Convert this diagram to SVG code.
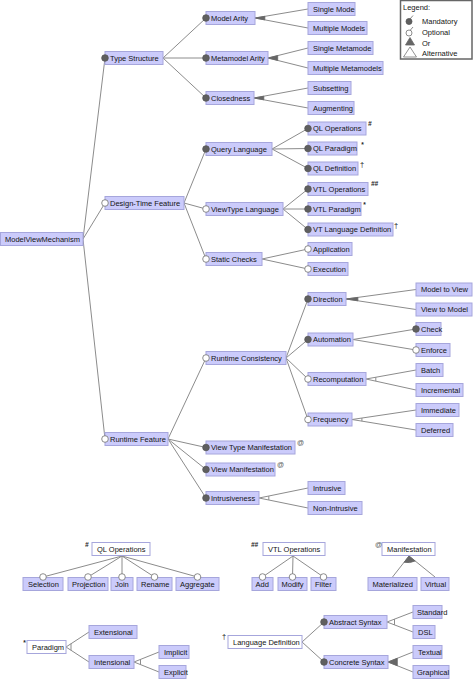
<svg xmlns="http://www.w3.org/2000/svg" width="474" height="680" viewBox="0 0 474 680">
<style>
.b{fill:#cbcbfb;stroke:#a6a6dc;stroke-width:1}
.w{fill:#ffffff;stroke:#a6a6dc;stroke-width:1}
.t{font-family:"Liberation Sans",Arial,sans-serif;font-size:7.5px;fill:#141414}
.ln{stroke:#8c8c8c;stroke-width:1;fill:none}
.m{fill:#5f5f5f;stroke:#555555;stroke-width:0.8}
.o{fill:#ffffff;stroke:#707070;stroke-width:0.8}
.or{fill:#666666;stroke:#666666;stroke-width:0.8}
.alt{fill:none;stroke:#8c8c8c;stroke-width:1}
.sup{font-family:"Liberation Sans",Arial,sans-serif;font-size:6.5px;fill:#222;font-weight:bold;font-style:italic}
.at{font-family:"Liberation Sans",Arial,sans-serif;font-size:7px;fill:#555}
.lg{fill:#ffffff;stroke:#666666;stroke-width:1.5}
</style>
<g id="connectors">
<path class="ln" d="M83,239L105,58M83,239L105,203M83,239L105,439"/>
<path class="ln" d="M163,58L206,18M163,58L206,58M163,58L206,98"/>
<path class="ln" d="M255,18L308,9M255,18L308,28M268,58L308,48M268,58L308,68M254,98L308,88M254,98L308,108"/>
<polygon class="or" points="255,18 264.9,16.3 264.8,19.9"/>
<polygon class="or" points="268,58 277.7,55.6 277.7,60.4"/>
<polygon class="or" points="254,98 263.8,96.2 263.8,99.8"/>
<path class="ln" d="M184,203L206,149M184,203L206,209M184,203L206,259"/>
<path class="ln" d="M272,149L308,128.5M272,149L308,148.5M272,149L308,168.5"/>
<path class="ln" d="M283,209L308,189M283,209L308,209M283,209L308,229.5"/>
<path class="ln" d="M262,259L308,249M262,259L308,269"/>
<path class="ln" d="M168,439L206,358M168,439L206,447.5M168,439L206,469.5M168,439L206,498"/>
<path class="ln" d="M286,358L308,299M286,358L308,339.5M286,358L308,379M286,358L308,419.5"/>
<path class="ln" d="M346,299L416,289.5M346,299L416,309.5"/>
<polygon class="or" points="346,299 357.9,297.4 357.9,300.8"/>
<path class="ln" d="M353,339.5L416,329M353,339.5L416,350"/>
<path class="ln" d="M366,379L416,370M366,379L416,390"/>
<path class="alt" d="M375.8,377.2L375.8,381.1"/>
<path class="ln" d="M352,419.5L416,410M352,419.5L416,430"/>
<path class="alt" d="M361.9,418L361.9,421.2"/>
<path class="ln" d="M259,498L308,488M259,498L308,508"/>
<path class="alt" d="M268.8,496L268.8,500"/>
<path class="ln" d="M122,556L43,577M122,556L88,577M122,556L122,577M122,556L154.5,577M122,556L197.5,577"/>
<path class="ln" d="M293,556L262.5,577M293,556L292.5,577M293,556L323.5,577"/>
<path class="ln" d="M409,556L392.5,577M409,556L435,577"/>
<path class="or" d="M409,556L404.1,562.3Q409.5,563.5 415.2,561Z"/>
<path class="ln" d="M66,647L89,632M66,647L89,662"/>
<path class="alt" d="M71,643.7L71,650.3"/>
<path class="ln" d="M134,662L159,652M134,662L159,672"/>
<path class="alt" d="M140.5,659.4L140.5,664.6"/>
<path class="ln" d="M302,642L324,622M302,642L324,662"/>
<path class="ln" d="M387,622L413,612M387,622L413,632"/>
<path class="alt" d="M394.5,619.1L394.5,624.9"/>
<path class="ln" d="M388,662L413,652M388,662L413,672"/>
<polygon class="or" points="388,662 397.3,658.3 397.3,665.7"/>
</g>
<g id="legend">
<rect class="lg" x="400.5" y="0.5" width="71.5" height="58.5"/>
<text class="t" x="403" y="10">Legend:</text>
<path class="ln" d="M410,19L413,15.5M410,30.5L413,27"/>
<circle class="m" cx="409" cy="21.5" r="3"/>
<circle class="o" cx="409" cy="33" r="3"/>
<polygon class="or" points="410,37.5 405.5,45 414.5,45"/>
<polygon fill="#fff" stroke="#777" stroke-width="0.8" points="410,47 403.5,57 416.5,57"/>
<text class="t" x="422" y="24">Mandatory</text>
<text class="t" x="422" y="35">Optional</text>
<text class="t" x="422" y="45.5">Or</text>
<text class="t" x="422" y="55.5">Alternative</text>
</g>
<g id="n-root"><rect class="b" x="0.5" y="232.5" width="82.5" height="13"/><text class="t" x="5" y="241.7">ModelViewMechanism</text></g>
<g id="n-typestructure"><rect class="b" x="105" y="51.5" width="58" height="13"/><circle class="m" cx="105" cy="58" r="3.3"/><text class="t" x="110" y="60.7">Type Structure</text></g>
<g id="n-designtime"><rect class="b" x="105" y="196.5" width="79" height="13"/><circle class="o" cx="105" cy="203" r="3.3"/><text class="t" x="110" y="205.7">Design-Time Feature</text></g>
<g id="n-runtime"><rect class="b" x="105" y="432.5" width="63" height="13"/><circle class="o" cx="105" cy="439" r="3.3"/><text class="t" x="110" y="441.7">Runtime Feature</text></g>
<g id="n-modelarity"><rect class="b" x="206" y="11.5" width="49" height="13"/><circle class="m" cx="206" cy="18" r="3.3"/><text class="t" x="211" y="20.7">Model Arity</text></g>
<g id="n-metamodelarity"><rect class="b" x="206" y="51.5" width="62" height="13"/><circle class="m" cx="206" cy="58" r="3.3"/><text class="t" x="211" y="60.7">Metamodel Arity</text></g>
<g id="n-closedness"><rect class="b" x="206" y="91.5" width="48" height="13"/><circle class="m" cx="206" cy="98" r="3.3"/><text class="t" x="211" y="100.7">Closedness</text></g>
<g id="n-singlemode"><rect class="b" x="308" y="2.5" width="47" height="13"/><text class="t" x="313" y="11.7">Single Mode</text></g>
<g id="n-multiplemodels"><rect class="b" x="308" y="21.5" width="59" height="13"/><text class="t" x="313" y="30.7">Multiple Models</text></g>
<g id="n-singlemetamode"><rect class="b" x="308" y="41.5" width="65" height="13"/><text class="t" x="313" y="50.7">Single Metamode</text></g>
<g id="n-multiplemetamodels"><rect class="b" x="308" y="61.5" width="75" height="13"/><text class="t" x="313" y="70.7">Multiple Metamodels</text></g>
<g id="n-subsetting"><rect class="b" x="308" y="81.5" width="43" height="13"/><text class="t" x="313" y="90.7">Subsetting</text></g>
<g id="n-augmenting"><rect class="b" x="308" y="101.5" width="46" height="13"/><text class="t" x="313" y="110.7">Augmenting</text></g>
<g id="n-querylanguage"><rect class="b" x="206" y="142.5" width="66" height="13"/><circle class="m" cx="206" cy="149" r="3.3"/><text class="t" x="211" y="151.7">Query Language</text></g>
<g id="n-viewtypelanguage"><rect class="b" x="206" y="202.5" width="77" height="13"/><circle class="o" cx="206" cy="209" r="3.3"/><text class="t" x="211" y="211.7">ViewType Language</text></g>
<g id="n-staticchecks"><rect class="b" x="206" y="252.5" width="56" height="13"/><circle class="o" cx="206" cy="259" r="3.3"/><text class="t" x="211" y="261.7">Static Checks</text></g>
<g id="n-qlops"><rect class="b" x="308" y="122" width="58" height="13"/><circle class="m" cx="308" cy="128.5" r="3.3"/><text class="t" x="313" y="131.2">QL Operations</text><text class="sup" x="368" y="126">#</text></g>
<g id="n-qlparadigm"><rect class="b" x="308" y="142" width="49" height="13"/><circle class="m" cx="308" cy="148.5" r="3.3"/><text class="t" x="313" y="151.2">QL Paradigm</text><text class="sup" x="361" y="147">*</text></g>
<g id="n-qldefinition"><rect class="b" x="308" y="162" width="50" height="13"/><circle class="m" cx="308" cy="168.5" r="3.3"/><text class="t" x="313" y="171.2">QL Definition</text><text class="t" x="360" y="167">†</text></g>
<g id="n-vtlops"><rect class="b" x="308" y="182.5" width="60" height="13"/><circle class="m" cx="308" cy="189" r="3.3"/><text class="t" x="313" y="191.7">VTL Operations</text><text class="sup" x="371" y="186">##</text></g>
<g id="n-vtlparadigm"><rect class="b" x="308" y="202.5" width="53" height="13"/><circle class="m" cx="308" cy="209" r="3.3"/><text class="t" x="313" y="211.7">VTL Paradigm</text><text class="sup" x="363" y="207">*</text></g>
<g id="n-vtlangdef"><rect class="b" x="308" y="223" width="85" height="13"/><circle class="m" cx="308" cy="229.5" r="3.3"/><text class="t" x="313" y="232.2">VT Language Definition</text><text class="t" x="394" y="228">†</text></g>
<g id="n-application"><rect class="b" x="308" y="242.5" width="44" height="13"/><circle class="o" cx="308" cy="249" r="3.3"/><text class="t" x="313" y="251.7">Application</text></g>
<g id="n-execution"><rect class="b" x="308" y="262.5" width="40" height="13"/><circle class="o" cx="308" cy="269" r="3.3"/><text class="t" x="313" y="271.7">Execution</text></g>
<g id="n-runtimeconsistency"><rect class="b" x="206" y="351.5" width="80" height="13"/><circle class="o" cx="206" cy="358" r="3.3"/><text class="t" x="211" y="360.7">Runtime Consistency</text></g>
<g id="n-vtmanifestation"><rect class="b" x="206" y="441" width="89" height="13"/><circle class="m" cx="206" cy="447.5" r="3.3"/><text class="t" x="211" y="450.2">View Type Manifestation</text><text class="at" x="297" y="445">@</text></g>
<g id="n-vmanifestation"><rect class="b" x="206" y="463" width="69" height="13"/><circle class="m" cx="206" cy="469.5" r="3.3"/><text class="t" x="211" y="472.2">View Manifestation</text><text class="at" x="277" y="467">@</text></g>
<g id="n-intrusiveness"><rect class="b" x="206" y="491.5" width="53" height="13"/><circle class="m" cx="206" cy="498" r="3.3"/><text class="t" x="211" y="500.7">Intrusiveness</text></g>
<g id="n-direction"><rect class="b" x="308" y="292.5" width="38" height="13"/><circle class="m" cx="308" cy="299" r="3.3"/><text class="t" x="313" y="301.7">Direction</text></g>
<g id="n-automation"><rect class="b" x="308" y="333" width="45" height="13"/><circle class="m" cx="308" cy="339.5" r="3.3"/><text class="t" x="313" y="342.2">Automation</text></g>
<g id="n-recomputation"><rect class="b" x="308" y="372.5" width="58" height="13"/><circle class="o" cx="308" cy="379" r="3.3"/><text class="t" x="313" y="381.7">Recomputation</text></g>
<g id="n-frequency"><rect class="b" x="308" y="413" width="44" height="13"/><circle class="o" cx="308" cy="419.5" r="3.3"/><text class="t" x="313" y="422.2">Frequency</text></g>
<g id="n-modeltoview"><rect class="b" x="416" y="283" width="56" height="13"/><text class="t" x="421" y="292.2">Model to View</text></g>
<g id="n-viewtomodel"><rect class="b" x="416" y="303" width="56" height="13"/><text class="t" x="421" y="312.2">View  to Model</text></g>
<g id="n-check"><rect class="b" x="416" y="322.5" width="25" height="13"/><circle class="m" cx="416" cy="329" r="3.3"/><text class="t" x="421" y="331.7">Check</text></g>
<g id="n-enforce"><rect class="b" x="416" y="343.5" width="34" height="13"/><circle class="o" cx="416" cy="350" r="3.3"/><text class="t" x="421" y="352.7">Enforce</text></g>
<g id="n-batch"><rect class="b" x="416" y="363.5" width="27" height="13"/><text class="t" x="421" y="372.7">Batch</text></g>
<g id="n-incremental"><rect class="b" x="416" y="383.5" width="47" height="13"/><text class="t" x="421" y="392.7">Incremental</text></g>
<g id="n-immediate"><rect class="b" x="416" y="403.5" width="43" height="13"/><text class="t" x="421" y="412.7">Immediate</text></g>
<g id="n-deferred"><rect class="b" x="416" y="423.5" width="37" height="13"/><text class="t" x="421" y="432.7">Deferred</text></g>
<g id="n-intrusive"><rect class="b" x="308" y="481.5" width="37" height="13"/><text class="t" x="313" y="490.7">Intrusive</text></g>
<g id="n-nonintrusive"><rect class="b" x="308" y="501.5" width="54" height="13"/><text class="t" x="313" y="510.7">Non-Intrusive</text></g>
<g id="n-qlops2"><rect class="w" x="92" y="542.5" width="58" height="13"/><text class="t" x="97" y="551.7">QL Operations</text><text class="sup" x="85" y="547">#</text></g>
<g id="n-selection"><rect class="b" x="23" y="577.5" width="40" height="13"/><circle class="o" cx="43" cy="577" r="3.3"/><text class="t" x="28" y="586.7">Selection</text></g>
<g id="n-projection"><rect class="b" x="68" y="577.5" width="40" height="13"/><circle class="o" cx="88" cy="577" r="3.3"/><text class="t" x="72" y="586.7">Projection</text></g>
<g id="n-join"><rect class="b" x="111" y="577.5" width="22" height="13"/><circle class="o" cx="122" cy="577" r="3.3"/><text class="t" x="115" y="586.7">Join</text></g>
<g id="n-rename"><rect class="b" x="137" y="577.5" width="35" height="13"/><circle class="o" cx="154.5" cy="577" r="3.3"/><text class="t" x="141" y="586.7">Rename</text></g>
<g id="n-aggregate"><rect class="b" x="176" y="577.5" width="43" height="13"/><circle class="o" cx="197.5" cy="577" r="3.3"/><text class="t" x="180" y="586.7">Aggregate</text></g>
<g id="n-vtlops2"><rect class="w" x="263" y="542.5" width="62" height="13"/><text class="t" x="268" y="551.7">VTL Operations</text><text class="sup" x="251" y="547">##</text></g>
<g id="n-add"><rect class="b" x="252" y="577.5" width="21" height="13"/><circle class="o" cx="262.5" cy="577" r="3.3"/><text class="t" x="255.5" y="586.7">Add</text></g>
<g id="n-modify"><rect class="b" x="278" y="577.5" width="29" height="13"/><circle class="o" cx="292.5" cy="577" r="3.3"/><text class="t" x="281.5" y="586.7">Modify</text></g>
<g id="n-filter"><rect class="b" x="311" y="577.5" width="25" height="13"/><circle class="o" cx="323.5" cy="577" r="3.3"/><text class="t" x="315" y="586.7">Filter</text></g>
<g id="n-manifestation"><rect class="w" x="382" y="542.5" width="53" height="13"/><text class="t" x="387" y="551.7">Manifestation</text><text class="at" x="375" y="547">@</text></g>
<g id="n-materialized"><rect class="b" x="368" y="577.5" width="49" height="13"/><text class="t" x="372.5" y="586.7">Materialized</text></g>
<g id="n-virtual"><rect class="b" x="421" y="577.5" width="28" height="13"/><text class="t" x="425" y="586.7">Virtual</text></g>
<g id="n-paradigm"><rect class="w" x="27" y="640.5" width="39" height="13"/><text class="t" x="32" y="649.7">Paradigm</text><text class="sup" x="23" y="645">*</text></g>
<g id="n-extensional"><rect class="b" x="89" y="625.5" width="48" height="13"/><text class="t" x="94" y="634.7">Extensional</text></g>
<g id="n-intensional"><rect class="b" x="89" y="655.5" width="45" height="13"/><text class="t" x="94" y="664.7">Intensional</text></g>
<g id="n-implicit"><rect class="b" x="159" y="645.5" width="30" height="13"/><text class="t" x="164" y="654.7">Implicit</text></g>
<g id="n-explicit"><rect class="b" x="159" y="665.5" width="27" height="13"/><text class="t" x="164" y="674.7">Explicit</text></g>
<g id="n-langdef"><rect class="w" x="228" y="635.5" width="74" height="13"/><text class="t" x="233" y="644.7">Language Definition</text><text class="t" x="222" y="639">†</text></g>
<g id="n-abstract"><rect class="b" x="324" y="615.5" width="63" height="13"/><circle class="m" cx="324" cy="622" r="3.3"/><text class="t" x="329" y="624.7">Abstract Syntax</text></g>
<g id="n-concrete"><rect class="b" x="324" y="655.5" width="64" height="13"/><circle class="m" cx="324" cy="662" r="3.3"/><text class="t" x="329" y="664.7">Concrete Syntax</text></g>
<g id="n-standard"><rect class="b" x="413" y="605.5" width="29" height="13"/><text class="t" x="417" y="614.7">Standard</text></g>
<g id="n-dsl"><rect class="b" x="413" y="625.5" width="22" height="13"/><text class="t" x="418" y="634.7">DSL</text></g>
<g id="n-textual"><rect class="b" x="413" y="645.5" width="29" height="13"/><text class="t" x="418" y="654.7">Textual</text></g>
<g id="n-graphical"><rect class="b" x="413" y="665.5" width="36" height="13"/><text class="t" x="417" y="674.7">Graphical</text></g>
</svg>
